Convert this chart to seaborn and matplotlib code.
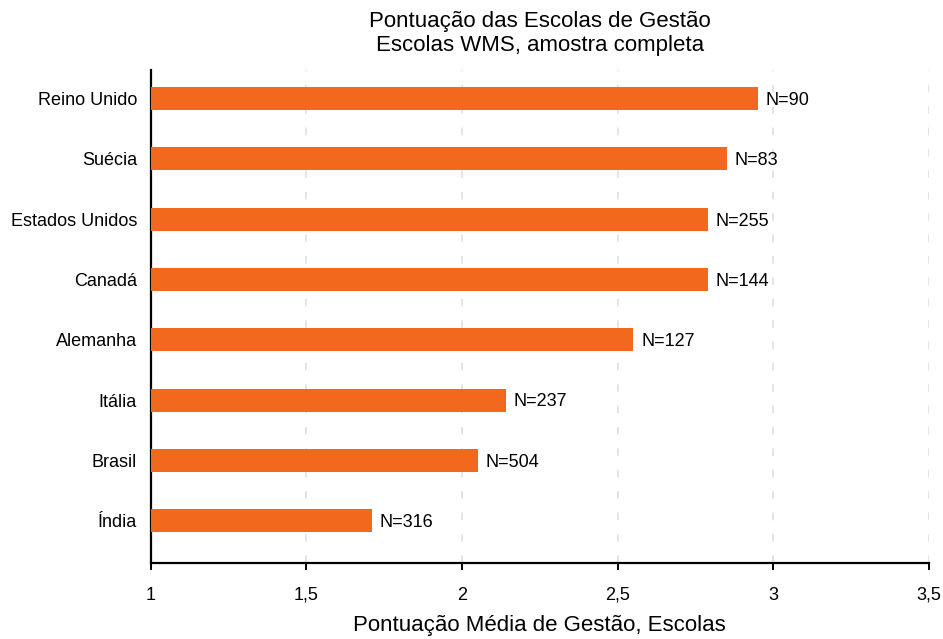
import matplotlib
matplotlib.use("Agg")
import matplotlib.pyplot as plt
import seaborn as sns
import pandas as pd

paises = ['Reino Unido', 'Suécia', 'Estados Unidos', 'Canadá', 'Alemanha', 'Itália', 'Brasil', 'Índia']
pontuacao = [2.95, 2.85, 2.79, 2.79, 2.55, 2.14, 2.05, 1.71]
n_escolas = [90, 83, 255, 144, 127, 237, 504, 316]
x_ticks = [1, 1.5, 2, 2.5, 3, 3.5]
x_ticklabels = ['1', '1,5', '2', '2,5', '3', '3,5']

df = pd.DataFrame({'pais': paises, 'score': pontuacao, 'n': n_escolas})

sns.set_style('white')
plt.rcParams['font.family'] = ['Liberation Sans', 'DejaVu Sans']
plt.rcParams['text.color'] = 'black'
plt.rcParams['axes.labelcolor'] = 'black'
plt.rcParams['xtick.color'] = 'black'
plt.rcParams['ytick.color'] = 'black'

fig = plt.figure(figsize=(9.43, 6.39), dpi=100)
ax = fig.add_axes([0.160, 0.119, 0.825, 0.771])

sns.barplot(data=df, x='score', y='pais', orient='h', color='#F2681D',
            saturation=1, width=0.38, linewidth=0, ax=ax, zorder=3)

# rótulos N= à direita das barras
for i, (v, n) in enumerate(zip(pontuacao, n_escolas)):
    ax.text(v + 0.025, i + 0.03, f'N={n}', va='center', ha='left', fontsize=13, color='black')

ax.set_xlim(1, 3.5)
ax.set_ylim(7.7, -0.47)
ax.set_xticks(x_ticks)
ax.set_xticklabels(x_ticklabels)
ax.grid(axis='x', linestyle=(0, (5, 9)), color='#dcdcdc', linewidth=1.1, zorder=0)
ax.grid(axis='y', visible=False)

for s in ['top', 'right']:
    ax.spines[s].set_visible(False)
for s in ['left', 'bottom']:
    ax.spines[s].set_color('black')
    ax.spines[s].set_linewidth(1.6)

ax.tick_params(axis='x', length=5, width=1.4, color='black', direction='out',
               bottom=True, labelsize=13, pad=12)
ax.tick_params(axis='y', length=0, labelsize=13, pad=10)

ax.set_ylabel('')
ax.set_xlabel('Pontuação Média de Gestão, Escolas', fontsize=16, labelpad=8)
ax.set_title('Pontuação das Escolas de Gestão\nEscolas WMS, amostra completa',
             fontsize=16, linespacing=1.2, pad=14)

fig.savefig('out.png', dpi=100)
